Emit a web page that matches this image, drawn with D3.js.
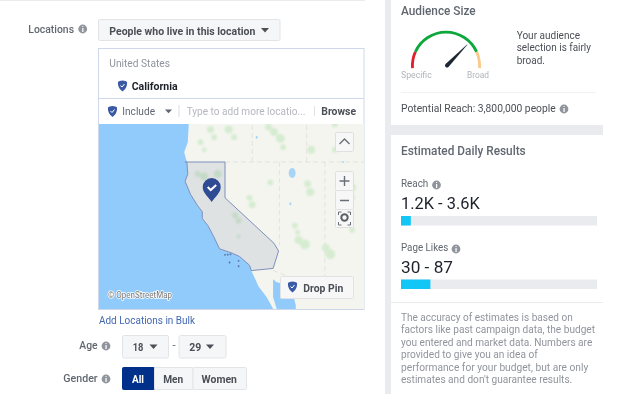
<!DOCTYPE html>
<html><head><meta charset="utf-8">
<script src="https://cdnjs.cloudflare.com/ajax/libs/d3/7.8.5/d3.min.js"></script>
<style>html,body{margin:0;padding:0;background:#fff;overflow:hidden}svg{display:block;font-family:Roboto,Arial,sans-serif}</style>
</head><body><svg id="c" width="640" height="416"></svg>
<script>
// ---- data ----
const gaugeLabels = ["Specific", "Broad"];
const gaugeSegments = [[0, 0.15], [0.15, 0.85], [0.85, 1]];
const gaugeColors = ["#e0202c", "#0da83c", "#fcc88a"];
const gaugeNeedle = 0.735;
const estimateNames = ["Reach", "Page Likes"];
const estimateRanges = ["1.2K - 3.6K", "30 - 87"];
const estimateFill = [5, 15];
const ageValues = ["18", "29"];
const genderOptions = ["All", "Men", "Women"];
const disclaimer = ["The accuracy of estimates is based on","factors like past campaign data, the budget","you entered and market data. Numbers are","provided to give you an idea of","performance for your budget, but are only","estimates and don't guarantee results."];
const audienceLines = ["Your audience","selection is fairly","broad."];
const coast = [[-124,46],[-124,45],[-124.1,43.6],[-124.5,42.8],[-124.2,42],[-124.1,41],[-124.4,40.4],[-123.8,39.3],[-123,38.3],[-122.5,37.8],[-122.5,37.2],[-121.9,36.6],[-121.3,35.7],[-120.6,34.5],[-119.2,34.1],[-118.4,33.8],[-117.3,33],[-117.1,32.5],[-116.3,31],[-115.4,30],[-114.4,28.4],[-100,28.4],[-100,46]];
const gulf = [[-114.7,31.7],[-114.3,31.4],[-113.2,31.2],[-112.6,30.6],[-112.2,29.2],[-112.2,28],[-114,28],[-114.7,30]];
const california = [[-124.4,42],[-120,42],[-120,39],[-114.6,35],[-114.1,34.3],[-114.7,32.7],[-117.1,32.5],[-117.3,33],[-118.4,33.8],[-119.2,34.1],[-120.6,34.5],[-121.3,35.7],[-121.9,36.6],[-122.5,37.2],[-122.5,37.8],[-123,38.3],[-123.8,39.3],[-124.4,40.4],[-124.1,41],[-124.2,42]];
const greenPatches = [[-121.6,44.6,3.5],[-121.2,44,3],[-119.6,44.6,4],[-119,44,3],[-115.2,44.8,3.5],[-114.6,44.4,4],[-113.9,43.9,4.5],[-113.6,43.2,3],[-122.7,43.6,3],[-122.3,43,2.5],[-110.9,40.2,3.5],[-110.6,39.5,4],[-117.3,39,3],[-117,38.4,3.5],[-115,40.3,3],[-112.3,36.6,3],[-112,36,2.5],[-111.9,35.3,4],[-111.2,34.9,5],[-108.9,34.6,4],[-108.4,34,5],[-118.9,37.5,3],[-118.5,37,3],[-118.5,35.6,2],[-106,39.9,4],[-106,39,3],[-106,36.2,3],[-107.9,45,3],[-110.5,43,4],[-107.9,43,3],[-122.3,40.8,4],[-121.6,40.2,4],[-122,39.6,3],[-123,41,3],[-120.8,41,4]];
const lakes = [[-112.6,41.1,3.5,5],[-112.8,38.5,1,1.5],[-116.5,44,1,1.5],[-107,42,1,1]];
const channelIslands = [[-120,33.95],[-119.7,33.97],[-119.4,34],[-118.5,33.4],[-118.5,32.9],[-119.5,33.25]];
const borders = [[[-120,42],[-104,42]],[[-117,42],[-117,46]],[[-114,42],[-114,34.8]],[[-111,42],[-111,46]],[[-109,42],[-109,31.3]],[[-114.7,32.5],[-111,31.3],[-106,31.3]]];

// ---- helpers ----
const svg = d3.select("#c");
const root = svg.append("g").style("filter","blur(0.45px)");
const GREY="#606770", DARK="#4b4f56", LINE="#e9ebee";
function T(s,x,y,o={},p=root){const t=p.append("text").text(s).attr("x",x).attr("y",y).attr("font-size",o.size||11.5).attr("font-weight",o.w||400).attr("fill",o.c||GREY).attr("text-anchor",o.a||"start");
 if(o.len)t.attr("textLength",o.len).attr("lengthAdjust","spacingAndGlyphs");return t}
function R(x,y,w,h,f,s,rx,p=root){return p.append("rect").attr("x",x).attr("y",y).attr("width",w).attr("height",h).attr("fill",f).attr("stroke",s||"none").attr("rx",rx||0)}
function Info(cx,cy){root.append("circle").attr("cx",cx).attr("cy",cy).attr("r",4.4).attr("fill","#90949c");
 root.append("text").text("i").attr("x",cx).attr("y",cy+3).attr("font-size",8).attr("font-weight",700).attr("fill","#fff").attr("text-anchor","middle")}
function Tri(x,y,w,c){root.append("path").attr("d",`M${x},${y}h${w}l${-w/2},${w*0.55}z`).attr("fill",c||DARK)}
function Shield(x,y,s,p=root){const g=p.append("g").attr("transform",`translate(${x},${y}) scale(${s})`);
 g.append("path").attr("d","M0,-5.5C2,-5.5 4,-4.5 4.5,-4C4.8,-1 4,2.5 0,5.5C-4,2.5 -4.8,-1 -4.5,-4C-4,-4.5 -2,-5.5 0,-5.5Z").attr("fill","#3b5aa6");
 g.append("path").attr("d","M-2,-0.5L-0.5,1L2,-2").attr("fill","none").attr("stroke","#fff").attr("stroke-width",1)}

// ---- left column ----
R(0,0,365,1,LINE);
T("Locations",28.3,32.5,{w:500,len:45.7});Info(82.7,29);
R(98.5,19.5,181.5,21,"#f5f6f7","#e2e4e8",1.5);
T("People who live in this location",109.3,34.5,{w:700,c:DARK,size:11,len:146});Tri(261,28,8);

R(98.5,48.5,265.5,261,"#fff","#cfd7ea");
root.append("line").attr("x1",99).attr("x2",364).attr("y1",98.5).attr("y2",98.5).attr("stroke","#cfd7ea");
T("United States",109.3,66.5,{c:"#90949c",size:11,len:60.7});
Shield(122.5,86,1);T("California",131.7,90,{w:700,c:"#1d2129",size:11,len:46});
Shield(112.5,111.5,1);T("Include",122.3,115,{size:11,c:GREY,len:32.7});Tri(165,109.5,7,GREY);
R(178.5,105,1,12,"#d8deec");T("Type to add more locatio...",186.7,115,{size:11,c:"#b4b7bd",len:118.7});
R(314,106,1,10,"#e2e4e8");T("Browse",321.3,115,{w:700,size:11,c:DARK,len:34.7});

// ---- map ----
const projection = d3.geoMercator().scale(520).center([-120,42]).translate([225,162]);
const lineGeo = d3.line().x(d=>projection(d)[0]).y(d=>projection(d)[1]);
const defs = svg.append("defs");
defs.append("clipPath").attr("id","mapclip").append("rect").attr("x",99).attr("y",124).attr("width",265).attr("height",185);
const soft = defs.append("filter").attr("id","soft");soft.append("feGaussianBlur").attr("stdDeviation",1.2);
const map = root.append("g").attr("clip-path","url(#mapclip)");
R(99,124,265,185,"#90cbfb",null,0,map);
map.append("path").attr("d",lineGeo(coast)+"Z").attr("fill","#f5f5f0");
map.append("g").attr("filter","url(#soft)").selectAll("circle").data(greenPatches).join("circle")
 .attr("cx",d=>projection(d)[0]).attr("cy",d=>projection(d)[1]).attr("r",d=>d[2]).attr("fill","#d5ecd0");
map.selectAll("path.b").data(borders).join("path").attr("class","b").attr("d",lineGeo).attr("fill","none").attr("stroke","#e4e4de").attr("stroke-width",1).attr("stroke-dasharray","5 3");
map.selectAll("ellipse.l").data(lakes).join("ellipse").attr("class","l").attr("cx",d=>projection(d)[0]).attr("cy",d=>projection(d)[1]).attr("rx",d=>d[2]).attr("ry",d=>d[3]).attr("fill","#a8d4f5");
map.append("path").attr("d",lineGeo(gulf)+"Z").attr("fill","#90cbfb");
map.append("path").attr("d",lineGeo(california)+"Z").attr("fill","#5f6f96").attr("fill-opacity",0.14).attr("stroke","#7f90bc").attr("stroke-width",1);
map.selectAll("circle.i").data(channelIslands).join("circle").attr("class","i").attr("cx",d=>projection(d)[0]).attr("cy",d=>projection(d)[1]).attr("r",0.9).attr("fill","#5a6f9f");
const bigPin=map.append("g").attr("transform","translate(211.7,188)");
bigPin.append("path").attr("d","M0,14C-3,9 -9,5 -9,-1A9,9 0 1 1 9,-1C9,5 3,9 0,14Z").attr("fill","#2f4b93");
bigPin.append("path").attr("d","M-4,-1L-1,2L4.5,-3").attr("fill","none").attr("stroke","#fff").attr("stroke-width",2);
const btn=(x,y,w,h)=>R(x,y,w,h,"#f7f7f7","#e0e0e0",1,map);
btn(335.5,132.5,18,19);map.append("path").attr("d","M339.5,144L344.5,139L349.5,144").attr("fill","none").attr("stroke","#6b7078").attr("stroke-width",1.4);
btn(335.5,171.5,18,19);btn(335.5,190.5,18,19);btn(335.5,209.5,18,18);
map.append("path").attr("d","M339.5,181h10M344.5,176v10M340,200.5h9").attr("stroke","#6b7078").attr("stroke-width",1.4);
map.append("circle").attr("cx",344.5).attr("cy",217.5).attr("r",3.2).attr("fill","none").attr("stroke","#5a5f66").attr("stroke-width",2);
map.append("path").attr("d","M338.5,215v-3h3M350.5,215v-3h-3M338.5,222v3h3M350.5,222v3h-3").attr("fill","none").attr("stroke","#6b7078");
R(280.5,276.5,73,22,"#f7f7f7","#e2e2e2",1,map);
Shield(292.5,287,1,map);
T("Drop Pin",303.3,292,{w:700,c:DARK,size:11,len:40},map);
T("© OpenStreetMap",108,298,{size:8.5,c:"#777",len:64},map).attr("stroke","#fff").attr("stroke-width",1.5).attr("paint-order","stroke");

T("Add Locations in Bulk",99,323.5,{size:11,c:"#4267b2",len:96});
T("Age",79.3,349,{w:500,len:18.3});Info(106,346);
const ageX=[122.5,179];const ageW=[46,47];const ageTx=[132.7,189.3];const ageLen=[10.7,12];
ageValues.forEach((v,i)=>{R(ageX[i],335.5,ageW[i],22.5,"#f5f6f7","#e2e4e8",1.5);T(v,ageTx[i],351,{w:700,c:DARK,len:ageLen[i]});Tri(ageX[i]+27,344.5,8)});
T("-",172.5,349,{c:GREY});
T("Gender",63.3,382,{w:500,len:34.3});Info(106,379);
const gX=d3.scaleOrdinal().domain(genderOptions).range([122,154,192.5]);
const gW=d3.scaleOrdinal().domain(genderOptions).range([32,38.5,53.5]);
const gLen=[12,20,35.3];
genderOptions.forEach((g,i)=>{R(gX(g)+.5,367.5,gW(g),22,i==0?"#00308a":"#f5f6f7",i==0?"#00308a":"#e2e4e8",1);
 T(g,gX(g)+gW(g)/2-gLen[i]/2,382.5,{w:700,size:11,c:i==0?"#fff":DARK,len:gLen[i]})});

// ---- right column ----
R(385,0,6,394,LINE);R(391,125,212,10,LINE);R(391,302,212,1,LINE);
T("Audience Size",401,14.5,{w:500,size:13,c:GREY,len:74.7});
const gaugeAngle=d3.scaleLinear().domain([0,1]).range([-94,94].map(a=>a*Math.PI/180));
const arc=d3.arc().innerRadius(32.2).outerRadius(35);
root.append("g").attr("transform","translate(446,65.7)").selectAll("path").data(gaugeSegments).join("path")
 .attr("d",d=>arc({startAngle:gaugeAngle(d[0]),endAngle:gaugeAngle(d[1])})).attr("fill",(d,i)=>gaugeColors[i]);
const needleA=gaugeAngle(gaugeNeedle)*180/Math.PI;
const ng=root.append("g").attr("transform",`translate(447,65.5) rotate(${needleA})`);
ng.append("path").attr("d","M-2,0L-0.2,-29L0.2,-29L2,0A2,2 0 0 1 -2,0Z").attr("fill","#1c2733");
const gaugeLabelX=[401,467],gaugeLabelLen=[30.7,22];
gaugeLabels.forEach((l,i)=>T(l,gaugeLabelX[i],78,{size:9.5,c:"#b0b3b8",len:gaugeLabelLen[i]}));
const audienceLen=[63.3,74.3,28.3];
audienceLines.forEach((l,i)=>T(l,516.7,39+i*12.4,{size:11,c:DARK,len:audienceLen[i]}));
R(401,92,195,1,"#f0f1f3");
T("Potential Reach: 3,800,000 people",401,112,{size:10.4,c:DARK,len:154.7});Info(564,109);
T("Estimated Daily Results",401,155,{w:500,size:12.5,c:GREY,len:124.7});
const barX=d3.scaleLinear().domain([0,100]).range([401,597]);
const labelY=[187,251],valueY=[209,273],barY=[216,279.5],infoX=[436.5,456],nameLen=[27.3,47.3],rangeLen=[78.7,52];
estimateNames.forEach((n,i)=>{T(n,401,labelY[i],{size:10.5,c:GREY,len:nameLen[i]});Info(infoX[i],labelY[i]-2);
 T(estimateRanges[i],401,valueY[i],{size:17,c:"#1d2129",len:rangeLen[i]});
 R(barX(0),barY[i],barX(100)-barX(0),9.5,"#e9ebee");
 R(barX(0),barY[i],barX(estimateFill[i])-barX(0),9.5,"#12c6f5");});
const disclaimerLen=[171.7,194,191.3,136.7,187.3,171.3];
disclaimer.forEach((l,i)=>T(l,401,321+i*12.4,{size:10.6,c:"#90949c",len:disclaimerLen[i]}));
</script></body></html>
